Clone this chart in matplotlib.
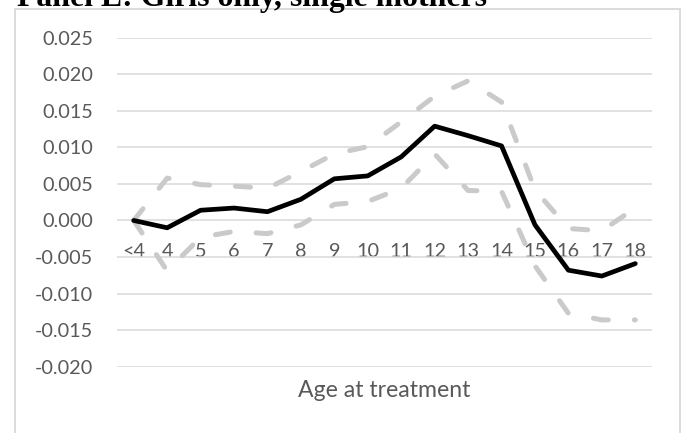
import matplotlib
matplotlib.use("Agg")
import matplotlib.pyplot as plt
from matplotlib.patches import Rectangle

# Age at treatment categories and estimated effects with confidence bounds
categories = ['<4', '4', '5', '6', '7', '8', '9', '10', '11', '12',
              '13', '14', '15', '16', '17', '18']
estimate = [0.0000, -0.0010, 0.0014, 0.0017, 0.0012, 0.0029, 0.0057, 0.0061,
            0.0087, 0.0129, 0.0116, 0.0102, -0.0006, -0.0068, -0.0076, -0.0059]
upper = [0.0000, 0.0058, 0.0049, 0.0047, 0.0044, 0.0067, 0.0091, 0.0101,
         0.0135, 0.0170, 0.0191, 0.0162, 0.0042, -0.0011, -0.0014, 0.0017]
lower = [0.0000, -0.0069, -0.0023, -0.0015, -0.0018, -0.0006, 0.0022, 0.0026,
         0.0044, 0.0091, 0.0041, 0.0040, -0.0062, -0.0127, -0.0136, -0.0136]
y_ticks = [-0.020, -0.015, -0.010, -0.005, 0.000, 0.005, 0.010, 0.015, 0.020, 0.025]

W, H = 681, 433
fig = plt.figure(figsize=(W / 100, H / 100), dpi=100)
fig.patch.set_facecolor('white')

# plot area in pixels
left, right, top, bottom = 117, 652, 37.7, 366.7
ax = fig.add_axes([left / W, (H - bottom) / H, (right - left) / W, (bottom - top) / H])

x = list(range(len(categories)))
grey = '#CACACA'
ax.plot(x, upper, color=grey, lw=3.6, linestyle=(0, (3, 5.2)),
        dash_capstyle='round', solid_joinstyle='round', zorder=3)
ax.plot(x, lower, color=grey, lw=3.6, linestyle=(0, (3, 5.2)),
        dash_capstyle='round', solid_joinstyle='round', zorder=3)
ax.plot(x, estimate, color='black', lw=3.4, solid_joinstyle='round',
        solid_capstyle='round', zorder=4)

ax.set_xlim(-0.5, len(categories) - 0.5)
ax.set_ylim(-0.020, 0.025)
ax.set_yticks(y_ticks)
ax.set_yticklabels([f'{v:.3f}' for v in y_ticks])
ax.set_xticks(x)
ax.set_xticklabels(categories)

ax.set_axisbelow(True)
ax.grid(axis='y', color='#D9D9D9', lw=1.1)
ax.grid(axis='x', visible=False)
for s in ['top', 'right', 'left']:
    ax.spines[s].set_visible(False)
ax.spines['bottom'].set_position(('data', 0))
ax.spines['bottom'].set_visible(False)

ax.tick_params(axis='both', length=0, colors='#595959')
ax.tick_params(axis='y', pad=17.3)
ax.tick_params(axis='x', pad=16.3)
for lab in ax.get_xticklabels() + ax.get_yticklabels():
    lab.set_fontfamily('Lato')
    lab.set_fontsize(14.3)

ax.set_xlabel('Age at treatment', fontfamily='Lato', fontsize=16.6, color='#595959')
ax.xaxis.label.set_va('baseline')
ax.xaxis.set_label_coords(0.5, -(396.7 - bottom) / (bottom - top))

# chart area border
fig.add_artist(Rectangle((15 / W, -0.05), (680 - 15) / W, (H - 8.7) / H + 0.05,
                         transform=fig.transFigure, fill=False,
                         edgecolor='#D9D9D9', lw=1.3))

fig.text(17 / W, (H - 6) / H, 'Panel E: Girls only, single mothers',
         fontfamily='Liberation Serif', fontweight='bold', fontsize=22.9,
         color='black', va='baseline', ha='left')

fig.savefig('out.png', dpi=100)
